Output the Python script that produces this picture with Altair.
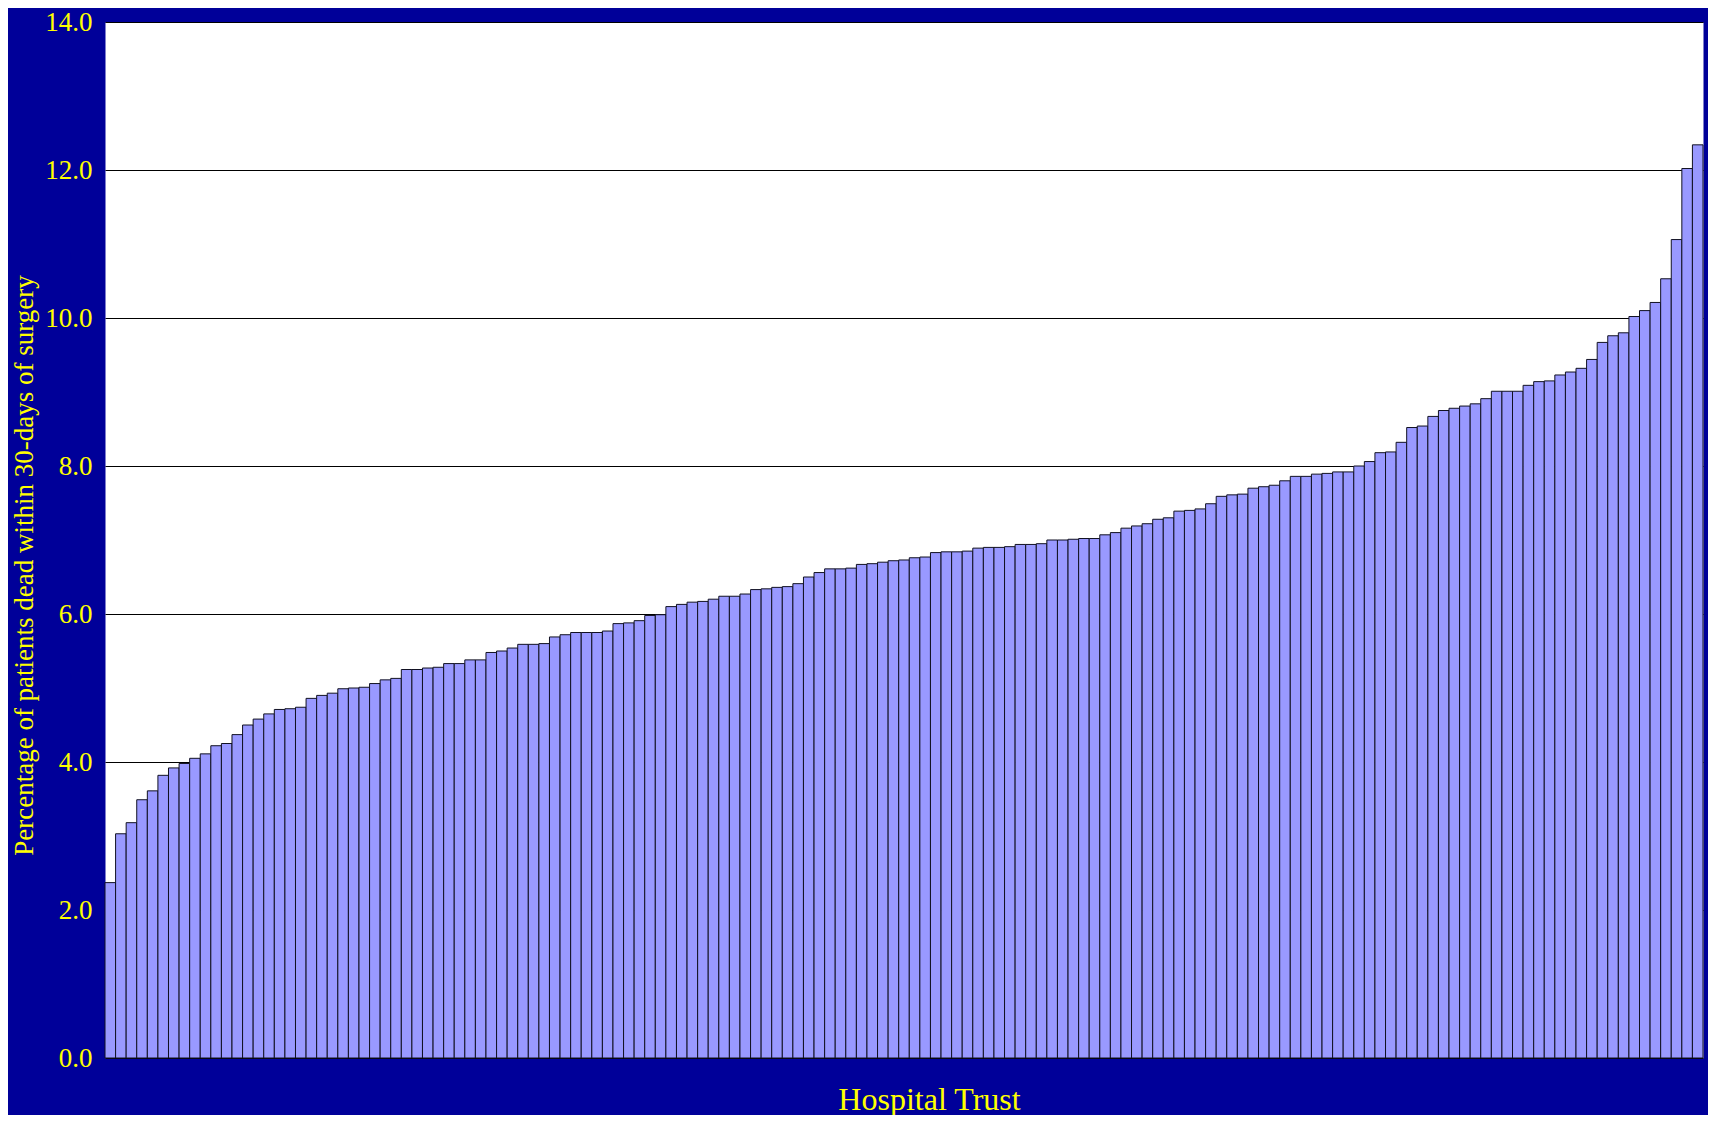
import altair as alt
import pandas as pd

# 30-day mortality (%) per hospital trust, sorted ascending
pct_part1 = [2.37, 3.03, 3.18, 3.49, 3.61, 3.82, 3.92, 3.98, 4.05, 4.11, 4.22, 4.25, 4.37,
             4.50, 4.58, 4.65, 4.71, 4.72, 4.74, 4.86, 4.90, 4.93, 4.99, 5.00, 5.01, 5.06,
             5.11, 5.13, 5.25, 5.25, 5.27, 5.28, 5.33, 5.33, 5.38, 5.38, 5.48, 5.50]
pct_part2 = [5.54, 5.59, 5.59, 5.60, 5.69, 5.72, 5.75, 5.75, 5.75, 5.77, 5.87, 5.88, 5.91,
             5.98, 5.99, 6.10, 6.13, 6.16, 6.17, 6.20, 6.24, 6.24, 6.27, 6.33, 6.34, 6.36,
             6.37, 6.41, 6.50, 6.56, 6.61, 6.61, 6.62, 6.67, 6.68, 6.70, 6.72, 6.73, 6.76]
pct_part3 = [6.77, 6.83, 6.84, 6.84, 6.85, 6.89, 6.90, 6.90, 6.91, 6.94, 6.94, 6.95,
             7.00, 7.00, 7.01, 7.02, 7.02, 7.07, 7.10, 7.16, 7.19, 7.22, 7.28, 7.30, 7.39,
             7.40, 7.42, 7.49, 7.59, 7.61, 7.62, 7.70, 7.72, 7.74, 7.80, 7.86, 7.86, 7.89]
pct_part4 = [7.90, 7.92, 7.92, 8.00, 8.06, 8.18, 8.19, 8.32, 8.52, 8.54, 8.67, 8.75,
             8.78, 8.81, 8.84, 8.91, 9.01, 9.01, 9.01, 9.09, 9.14, 9.15, 9.23, 9.27, 9.32,
             9.44, 9.67, 9.76, 9.80, 10.02, 10.10, 10.21, 10.53, 11.06, 12.02, 12.34]

values = pct_part1 + pct_part2 + pct_part3 + pct_part4
trusts = list(range(1, len(values) + 1))
y_ticks = [0, 2, 4, 6, 8, 10, 12, 14]

df = pd.DataFrame({"trust": trusts, "pct": values})

YELLOW = "#FFFF00"
FONT = "Liberation Serif"

chart = alt.Chart(df).mark_bar(
    fill="#9999FF", stroke="#111122", strokeWidth=1
).encode(
    x=alt.X(
        "trust:O",
        sort=None,
        scale=alt.Scale(paddingInner=0, paddingOuter=0),
        axis=alt.Axis(
            labels=False, ticks=False, domain=False, grid=False,
            title="Hospital Trust", titleColor=YELLOW, titleFont=FONT,
            titleFontSize=32, titleFontWeight="normal",
            titleX=824, titleY=41, titleBaseline="middle", titleAlign="center",
        ),
    ),
    y=alt.Y(
        "pct:Q",
        scale=alt.Scale(domain=[0, 14], nice=False),
        axis=alt.Axis(
            values=y_ticks, format=".1f", domain=False, ticks=False,
            labelPadding=13, labelColor=YELLOW, labelFont=FONT, labelFontSize=27,
            gridColor="#000000", gridWidth=1, gridOpacity=1,
            title="Percentage of patients dead within 30-days of surgery",
            titleColor=YELLOW, titleFont=FONT, titleFontSize=27, titleFontWeight="normal",
            titleX=-81, titleY=543, titleAngle=270,
            titleBaseline="middle", titleAlign="center",
        ),
    ),
).properties(
    width=1598,
    height=1036,
    padding={"left": 97, "top": 14, "right": 5, "bottom": 57},
    autosize=alt.AutoSizeParams(type="none"),
    background="#000099",
).configure_view(fill="white", stroke="transparent")

chart.save("out.html", embed_options={"renderer": "svg", "actions": False})
